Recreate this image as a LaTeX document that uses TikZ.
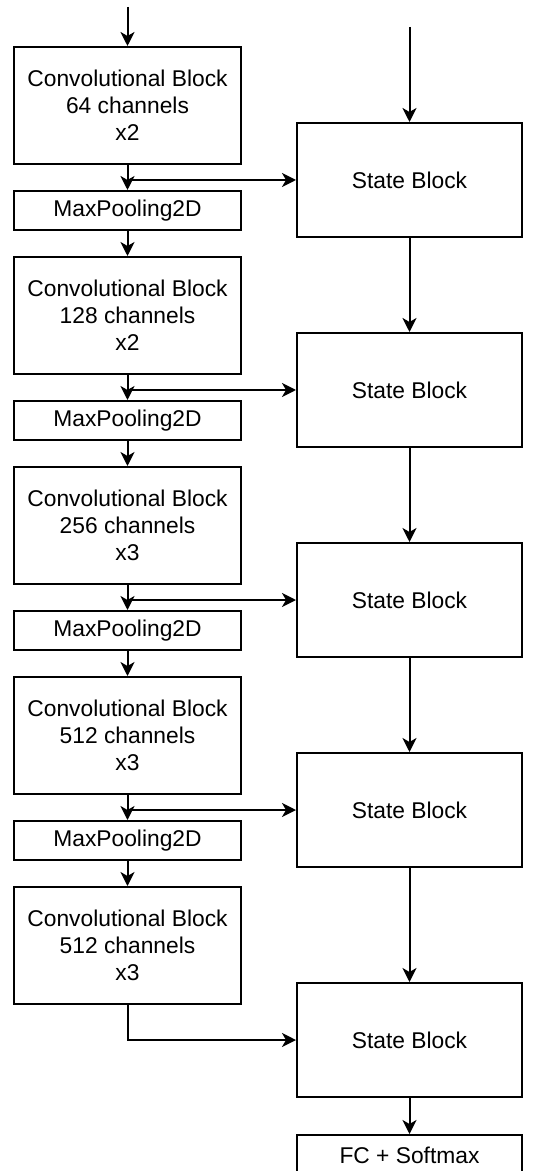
\documentclass[tikz,border=0pt]{standalone}
\usepackage{fontspec}
\setmainfont{Liberation Sans}
\usetikzlibrary{positioning}
\usetikzlibrary{calc}
\usetikzlibrary{arrows.meta}
\tikzset{
  box/.style      = { rectangle, draw=black, line width=1pt, align=center,
                      inner sep=0pt, font=\fontsize{11.4}{13.5}\selectfont },
  convbox/.style  = { box, minimum width=113.5pt, minimum height=58.5pt },
  poolbox/.style  = { box, minimum width=113.5pt, minimum height=19.5pt },
  statebox/.style = { box, minimum width=112.5pt, minimum height=57pt },
  outbox/.style   = { box, minimum width=112.5pt, minimum height=20.5pt },
}

\begin{document}
\begin{tikzpicture}[
  node distance=12.5pt,
  >={Stealth[length=7pt,width=7pt,inset=2pt]},line width=1pt
]
  \useasboundingbox (-63.75pt,52.75pt) rectangle (205.25pt,-532.75pt);

  \node (conv1) [convbox]                {Convolutional Block\\64 channels\\x2};
  \node (pool1) [poolbox,below=of conv1] {MaxPooling2D};
  \node (conv2) [convbox,below=of pool1] {Convolutional Block\\128 channels\\x2};
  \node (pool2) [poolbox,below=of conv2] {MaxPooling2D};
  \node (conv3) [convbox,below=of pool2] {Convolutional Block\\256 channels\\x3};
  \node (pool3) [poolbox,below=of conv3] {MaxPooling2D};
  \node (conv4) [convbox,below=of pool3] {Convolutional Block\\512 channels\\x3};
  \node (pool4) [poolbox,below=of conv4] {MaxPooling2D};
  \node (conv5) [convbox,below=of pool4] {Convolutional Block\\512 channels\\x3};

  \node (state1) [statebox,right=27pt of conv1.south east,yshift=-7.5pt] {State Block};
  \node (state2) [statebox,below=47pt of state1] {State Block};
  \node (state3) [statebox,below=47pt of state2] {State Block};
  \node (state4) [statebox,below=47pt of state3] {State Block};
  \node (state5) [statebox,below=57pt of state4] {State Block};
  \node (fc)     [outbox,below=18pt of state5]   {FC + Softmax};

  \coordinate [above=19.5pt of conv1] (inconv);
  \coordinate [above=47.5pt of state1] (instate);

  \draw [->] (inconv)  -- (conv1);
  \draw [->] (instate) -- (state1);

  \draw [->] (conv1) -- (pool1);
  \draw [->] (pool1) -- (conv2);
  \draw [->] (conv2) -- (pool2);
  \draw [->] (pool2) -- (conv3);
  \draw [->] (conv3) -- (pool3);
  \draw [->] (pool3) -- (conv4);
  \draw [->] (conv4) -- (pool4);
  \draw [->] (pool4) -- (conv5);

  \draw [->] (conv1.south) |- (state1.west);
  \draw [->] (conv2.south) |- (state2.west);
  \draw [->] (conv3.south) |- (state3.west);
  \draw [->] (conv4.south) |- (state4.west);
  \draw [->] (conv5.south) |- (state5.west);

  \draw [->] (state1) -- (state2);
  \draw [->] (state2) -- (state3);
  \draw [->] (state3) -- (state4);
  \draw [->] (state4) -- (state5);
  \draw [->] (state5) -- (fc);

\end{tikzpicture}
\end{document}
